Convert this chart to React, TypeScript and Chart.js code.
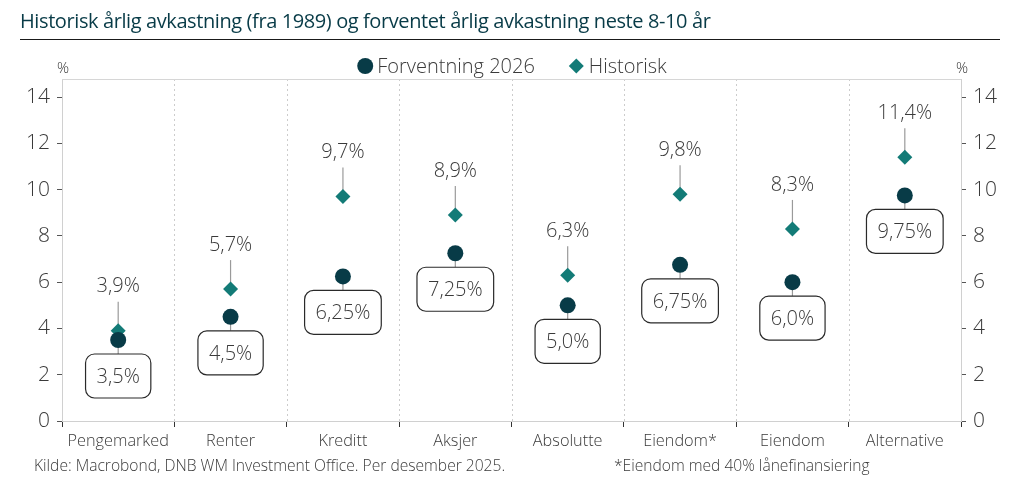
import React, { useEffect, useRef } from 'react';
import { Chart, registerables } from 'chart.js';

Chart.register(...registerables);

const titleText = 'Historisk årlig avkastning (fra 1989) og forventet årlig avkastning neste 8-10 år';
const sourceText = 'Kilde: Macrobond, DNB WM Investment Office. Per desember 2025.';
const noteText = '*Eiendom med 40% lånefinansiering';
const seriesNames = ['Forventning 2026', 'Historisk'];
const categories = ['Pengemarked', 'Renter', 'Kreditt', 'Aksjer', 'Absolutte', 'Eiendom*', 'Eiendom', 'Alternative'];
const forventning = [3.5, 4.5, 6.25, 7.25, 5.0, 6.75, 6.0, 9.75];
const historisk = [3.9, 5.7, 9.7, 8.9, 6.3, 9.8, 8.3, 11.4];
const forventningLabels = ['3,5%', '4,5%', '6,25%', '7,25%', '5,0%', '6,75%', '6,0%', '9,75%'];
const historiskLabels = ['3,9%', '5,7%', '9,7%', '8,9%', '6,3%', '9,8%', '8,3%', '11,4%'];
const yTickValues = [0, 2, 4, 6, 8, 10, 12, 14];

const FONT = "'Open Sans', 'Noto Sans', sans-serif";
const DARK = '#083b47';
const TEAL = '#137b77';
const TEXT = '#3a3a3a';

const decor = {
  id: 'decor',
  beforeDatasetsDraw(chart: any) {
    const { ctx, chartArea: a } = chart;
    ctx.save();
    const n = categories.length;
    const step = (a.right - a.left) / n;
    ctx.lineWidth = 1;
    ctx.strokeStyle = '#cccccc';
    ctx.setLineDash([2, 3]);
    for (let i = 1; i < n; i++) {
      const x = Math.round(a.left + i * step) + 0.5;
      ctx.beginPath();
      ctx.moveTo(x, a.top);
      ctx.lineTo(x, a.bottom);
      ctx.stroke();
    }
    ctx.setLineDash([]);
    ctx.strokeStyle = '#d6d6d6';
    ctx.beginPath();
    ctx.moveTo(a.left, a.top + 0.5);
    ctx.lineTo(a.right, a.top + 0.5);
    ctx.stroke();
    ctx.strokeStyle = '#9a9a9a';
    ctx.lineWidth = 1.2;
    chart.getDatasetMeta(1).data.forEach((pt: any) => {
      ctx.beginPath();
      ctx.moveTo(pt.x, pt.y - 29);
      ctx.lineTo(pt.x, pt.y - 6);
      ctx.stroke();
    });
    chart.getDatasetMeta(0).data.forEach((pt: any) => {
      ctx.beginPath();
      ctx.moveTo(pt.x, pt.y);
      ctx.lineTo(pt.x, pt.y + 14);
      ctx.stroke();
    });
    ctx.restore();
  },
  afterDatasetsDraw(chart: any) {
    const { ctx } = chart;
    ctx.save();
    ctx.font = `300 20px ${FONT}`;
    ctx.fillStyle = TEXT;
    ctx.textAlign = 'center';
    ctx.textBaseline = 'middle';
    chart.getDatasetMeta(1).data.forEach((pt: any, i: number) => {
      ctx.fillText(historiskLabels[i], pt.x, pt.y - 44);
    });
    chart.getDatasetMeta(0).data.forEach((pt: any, i: number) => {
      const label = forventningLabels[i];
      const w = ctx.measureText(label).width + 22;
      const h = 44;
      const x = pt.x - w / 2;
      const y = pt.y + 14;
      ctx.beginPath();
      ctx.roundRect(x, y, w, h, 9);
      ctx.fillStyle = '#ffffff';
      ctx.fill();
      ctx.strokeStyle = '#2a2a2a';
      ctx.lineWidth = 1.2;
      ctx.stroke();
      ctx.fillStyle = TEXT;
      ctx.fillText(label, pt.x, y + h / 2 + 1);
    });
    ctx.restore();
  },
  afterDraw(chart: any) {
    const { ctx, chartArea: a } = chart;
    ctx.save();
    // title
    ctx.fillStyle = DARK;
    ctx.font = `400 20px ${FONT}`;
    (ctx as any).letterSpacing = '-0.4px';
    ctx.textAlign = 'left';
    ctx.textBaseline = 'alphabetic';
    ctx.fillText(titleText, 20, 28);
    (ctx as any).letterSpacing = '0px';
    ctx.strokeStyle = '#1a1a1a';
    ctx.lineWidth = 1;
    ctx.beginPath();
    ctx.moveTo(20, 39.5);
    ctx.lineTo(1000, 39.5);
    ctx.stroke();
    // legend
    ctx.font = `300 20px ${FONT}`;
    ctx.textBaseline = 'middle';
    const w1 = ctx.measureText(seriesNames[0]).width;
    const w2 = ctx.measureText(seriesNames[1]).width;
    const gap = 34;
    const total = 16 + 4 + w1 + gap + 15 + 5 + w2;
    let x = 512 - total / 2;
    const ly = 66;
    ctx.fillStyle = DARK;
    ctx.beginPath();
    ctx.arc(x + 8, ly, 8, 0, Math.PI * 2);
    ctx.fill();
    x += 20;
    ctx.fillStyle = TEXT;
    ctx.fillText(seriesNames[0], x, ly + 1);
    x += w1 + gap;
    ctx.fillStyle = TEAL;
    ctx.beginPath();
    ctx.moveTo(x + 7.5, ly - 7.5);
    ctx.lineTo(x + 15, ly);
    ctx.lineTo(x + 7.5, ly + 7.5);
    ctx.lineTo(x, ly);
    ctx.closePath();
    ctx.fill();
    x += 20;
    ctx.fillStyle = TEXT;
    ctx.fillText(seriesNames[1], x, ly + 1);
    // percent labels
    ctx.font = `300 15px ${FONT}`;
    ctx.textAlign = 'center';
    ctx.fillText('%', a.left + 1, 69);
    ctx.fillText('%', a.right + 1, 69);
    // footer
    ctx.font = `300 15.6px ${FONT}`;
    ctx.textAlign = 'left';
    ctx.fillStyle = TEXT;
    ctx.fillText(sourceText, 34, 467);
    ctx.fillText(noteText, 614, 467);
    ctx.restore();
  },
};

const yAxisBase = (position: 'left' | 'right', width: number) => ({
  type: 'linear' as const,
  position,
  min: 0,
  max: 14.78,
  afterBuildTicks: (scale: any) => {
    scale.ticks = yTickValues.map((v) => ({ value: v }));
  },
  afterFit: (scale: any) => {
    scale.width = width;
  },
  grid: { drawOnChartArea: false, drawTicks: true, tickLength: 5, tickColor: '#555555' },
  border: { display: true, color: '#d0d0d0' },
  ticks: {
    padding: 7,
    color: TEXT,
    font: { family: FONT, size: 21, weight: 300 },
  },
});

export default function App() {
  const ref = useRef<HTMLCanvasElement>(null);
  useEffect(() => {
    if (!ref.current) return;
    const chart = new Chart(ref.current, {
      type: 'line',
      data: {
        labels: categories,
        datasets: [
          {
            label: seriesNames[0],
            data: forventning,
            showLine: false,
            pointStyle: 'circle',
            pointRadius: 8,
            pointHoverRadius: 8,
            pointBackgroundColor: DARK,
            pointBorderColor: DARK,
            pointBorderWidth: 0,
            yAxisID: 'y',
          },
          {
            label: seriesNames[1],
            data: historisk,
            showLine: false,
            pointStyle: 'rectRot',
            pointRadius: 7.5,
            pointHoverRadius: 7.5,
            pointBackgroundColor: TEAL,
            pointBorderColor: TEAL,
            pointBorderWidth: 0,
            yAxisID: 'y',
          },
        ],
      },
      options: {
        animation: false,
        responsive: false,
        devicePixelRatio: 1,
        layout: { padding: { top: 79, left: 0, right: 0, bottom: 0 } },
        plugins: {
          legend: { display: false },
          title: { display: false },
          tooltip: { enabled: false },
        },
        scales: {
          x: {
            type: 'category',
            offset: true,
            afterFit: (scale: any) => {
              scale.height = 69;
            },
            grid: { offset: true, drawOnChartArea: false, drawTicks: true, tickLength: 6, tickColor: '#333333' },
            border: { display: true, color: '#d0d0d0' },
            ticks: {
              padding: 5,
              color: TEXT,
              maxRotation: 0,
              autoSkip: false,
              font: { family: FONT, size: 16.3, weight: 300 },
            },
          },
          y: yAxisBase('left', 62) as any,
          y1: yAxisBase('right', 64) as any,
        },
      },
      plugins: [decor],
    } as any);
    return () => chart.destroy();
  }, []);
  return (
    <div style={{ position: 'absolute', left: 0, top: 0, width: 1025, height: 490, background: '#ffffff' }}>
      <canvas ref={ref} width={1025} height={490} />
    </div>
  );
}
